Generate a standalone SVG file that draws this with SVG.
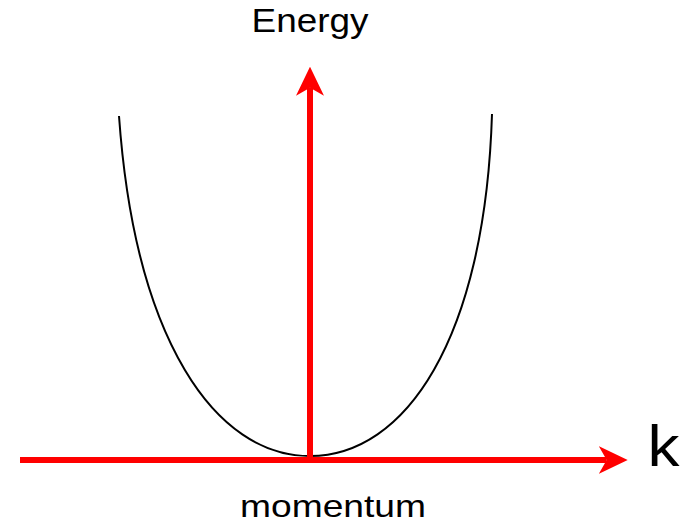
<svg xmlns="http://www.w3.org/2000/svg" width="680" height="523" viewBox="0 0 680 523">
<style>
  .lbl { font-family: "Liberation Sans", Arial, sans-serif; fill: #000; }
  .axis { stroke: #ff0000; stroke-width: 6; fill: none; }
  .curve { stroke: #000; stroke-width: 2; fill: none; }
</style>
<defs>
  <marker id="ah" viewBox="0 0 29 28" refX="8" refY="14" markerWidth="29" markerHeight="28" markerUnits="userSpaceOnUse" orient="auto">
    <path d="M0,0 L29,14 L0,28 L8,14 Z" fill="#ff0000"/>
  </marker>
</defs>
<rect width="680" height="523" fill="#fff"/>
<g id="band">
  <path class="curve" d="M119,116 C135,340 215,456 310,456 C405,456 485,340 492,114"/>
</g>
<g id="connectors">
  <line class="axis" x1="20" y1="460" x2="606.7" y2="460" marker-end="url(#ah)"/>
  <line class="axis" x1="310" y1="460" x2="310" y2="87.7" marker-end="url(#ah)"/>
</g>
<g id="energy-label">
  <text class="lbl" x="310" y="32" font-size="32.5" text-anchor="middle" textLength="117" lengthAdjust="spacingAndGlyphs">Energy</text>
</g>
<g id="momentum-label">
  <text class="lbl" x="333" y="517" font-size="32" text-anchor="middle" textLength="186" lengthAdjust="spacingAndGlyphs">momentum</text>
</g>
<g id="k-label">
  <text class="lbl" x="647.4" y="466" font-size="57" textLength="32" lengthAdjust="spacingAndGlyphs">k</text>
</g>
</svg>
